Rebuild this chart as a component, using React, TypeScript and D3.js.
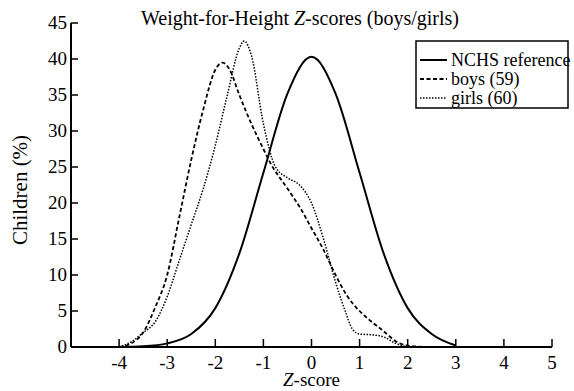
import React from "react";
import * as d3 from "d3";

const xTicks = [-4, -3, -2, -1, 0, 1, 2, 3, 4, 5];
const yTicks = [0, 5, 10, 15, 20, 25, 30, 35, 40, 45];

const nchsZ = [-4, -3.5, -3, -2.5, -2, -1.5, -1, -0.5, 0, 0.5, 1, 1.5, 2, 2.5, 3];
const nchsV = [0, 0.1, 0.5, 1.8, 5.4, 13, 24.2, 35.2, 40.3, 35.2, 24.2, 13, 5.4, 1.8, 0.2];

const boysZ = [-4, -3.75, -3.5, -3.25, -3, -2.75, -2.5, -2.25, -2, -1.85, -1.7, -1.5, -1.25, -1, -0.85, -0.5, -0.25, 0, 0.25, 0.5, 0.75, 1, 1.25, 1.5, 1.75, 2, 2.5, 3];
const boysV = [0, 0.5, 2, 5.5, 10, 18, 26, 33, 38.5, 39.5, 38.5, 35, 31, 27.5, 25.5, 22, 19.5, 16.5, 13.5, 10, 7, 5, 3.5, 2.2, 0.8, 0.2, 0, 0];

const girlsZ = [-4, -3.75, -3.5, -3.25, -3, -2.75, -2.5, -2.25, -2, -1.75, -1.5, -1.4, -1.25, -1, -0.75, -0.5, -0.25, 0, 0.25, 0.5, 0.7, 0.85, 1, 1.25, 1.5, 1.75, 2];
const girlsV = [0, 0.7, 2, 3.5, 7, 12, 17, 22, 28, 35, 41.5, 42.5, 40.5, 31, 25, 23.5, 22.5, 20, 15, 9, 5, 2.5, 1.8, 1.7, 1.4, 0.5, 0];

const series = [
  { name: "NCHS reference", z: nchsZ, v: nchsV, dash: "none", width: 2 },
  { name: "boys (59)", z: boysZ, v: boysV, dash: "4,2.5", width: 1.8 },
  { name: "girls (60)", z: girlsZ, v: girlsV, dash: "1.5,1.5", width: 1.5 },
];

const FONT = "Liberation Serif";

export default function App() {
  const W = 574, H = 391;
  const x = d3.scaleLinear().domain([-5, 5]).range([71, 552]);
  const y = d3.scaleLinear().domain([0, 45]).range([347, 23]);
  const line = d3
    .line<[number, number]>()
    .x((d) => x(d[0]))
    .y((d) => y(d[1]))
    .curve(d3.curveMonotoneX);
  const tp = { fontFamily: FONT, style: { fontFamily: FONT } };
  return (
    <svg width={W} height={H} style={{ position: "absolute", left: 0, top: 0 }}>
      <rect width={W} height={H} fill="#fff" />
      <line x1={x(-5)} x2={x(-5)} y1={y(45)} y2={y(0)} stroke="#000" strokeWidth={2} />
      <line x1={x(-5)} x2={x(5)} y1={y(0)} y2={y(0)} stroke="#000" strokeWidth={2} />
      {yTicks.map((t) => (
        <g key={"y" + t}>
          <line x1={x(-5)} x2={x(-5) + 7} y1={y(t)} y2={y(t)} stroke="#000" strokeWidth={1.5} />
          <text x={x(-5) - 4} y={y(t) + 6} textAnchor="end" fontSize={19} {...tp}>
            {t}
          </text>
        </g>
      ))}
      {xTicks.map((t) => (
        <g key={"x" + t}>
          <line x1={x(t)} x2={x(t)} y1={y(0)} y2={y(0) - 8} stroke="#000" strokeWidth={1.5} />
          <text x={x(t)} y={y(0) + 22} textAnchor="middle" fontSize={19} {...tp}>
            {t}
          </text>
        </g>
      ))}
      <text x={x(0)} y={386} textAnchor="middle" fontSize={19} {...tp}>
        <tspan fontStyle="italic">Z</tspan>-score
      </text>
      <text transform={`translate(27,190) rotate(-90)`} textAnchor="middle" fontSize={21} {...tp}>
        Children (%)
      </text>
      <text x={300} y={25} textAnchor="middle" fontSize={20} {...tp}>
        Weight-for-Height <tspan fontStyle="italic">Z</tspan>-scores (boys/girls)
      </text>
      {series.map((s) => (
        <path
          key={s.name}
          d={line(s.z.map((zz, i) => [zz, s.v[i]] as [number, number])) || ""}
          fill="none"
          stroke="#000"
          strokeWidth={s.width}
          strokeDasharray={s.dash}
        />
      ))}
      <rect x={416} y={41} width={152} height={67} fill="#fff" stroke="#000" strokeWidth={1.5} />
      {series.map((s, i) => (
        <g key={"l" + s.name}>
          <line x1={420} x2={447} y1={60 + i * 19} y2={60 + i * 19} stroke="#000" strokeWidth={s.width} strokeDasharray={s.dash} />
          <text x={451} y={66 + i * 19} fontSize={18} {...tp}>
            {s.name}
          </text>
        </g>
      ))}
    </svg>
  );
}
